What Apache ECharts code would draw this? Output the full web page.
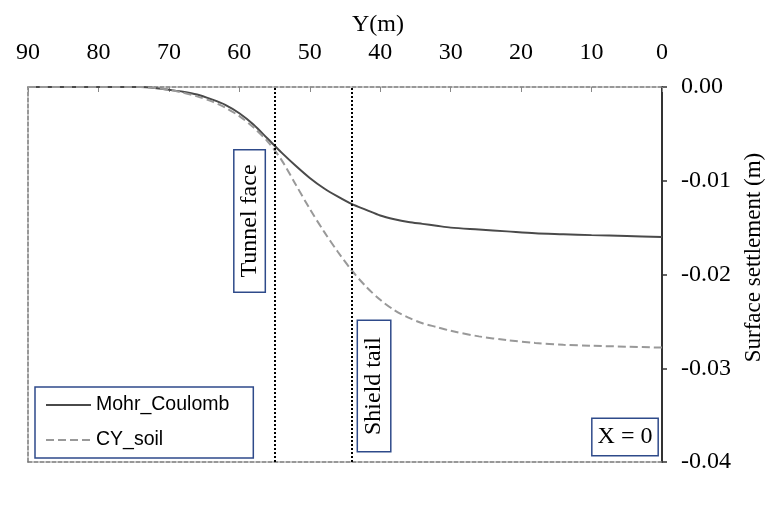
<!DOCTYPE html>
<html>
<head>
<meta charset="utf-8">
<script src="https://cdn.jsdelivr.net/npm/echarts@6/dist/echarts.min.js"></script>
<style>html,body{margin:0;padding:0;background:#fff}#c{width:768px;height:509px}</style>
</head>
<body>
<div id="c"></div>
<script>
// Distance Y (m)
var yPos = [90, 80, 76, 74, 72, 70, 68, 66, 64, 62, 60, 58, 56, 54, 52, 50, 48, 46, 44, 42, 40, 38, 36, 34, 32, 30, 26, 22, 18, 14, 10, 5, 0];
// Surface settlement (m)
var mohrCoulomb = [0, 0, 0, 0, -0.0001, -0.0003, -0.0005, -0.0008, -0.0013, -0.0019, -0.0028, -0.0040, -0.0055, -0.0070, -0.0084, -0.0097, -0.0108, -0.0117, -0.0125, -0.0131, -0.0137, -0.0141, -0.0144, -0.0146, -0.0148, -0.0150, -0.0152, -0.0154, -0.0156, -0.0157, -0.0158, -0.0159, -0.0160];
var cySoil = [0, 0, 0, 0, -0.0001, -0.0003, -0.0006, -0.0010, -0.0015, -0.0022, -0.0031, -0.0043, -0.0058, -0.0078, -0.0104, -0.0130, -0.0154, -0.0176, -0.0196, -0.0213, -0.0227, -0.0238, -0.0246, -0.0252, -0.0256, -0.0260, -0.0266, -0.0270, -0.0273, -0.0275, -0.0276, -0.0277, -0.0278];
var seriesNames = ['Mohr_Coulomb', 'CY_soil'];
var markers = [{name: 'Tunnel face', y: 55}, {name: 'Shield tail', y: 44}];
var caseLabel = 'X = 0';

var serif = '"Liberation Serif", "Times New Roman", serif';
var chart = echarts.init(document.getElementById('c'));
function pairs(v) { return yPos.map(function (x, i) { return [x, v[i]]; }); }

chart.setOption({
  animation: false,
  backgroundColor: '#fff',
  grid: {left: 28, right: 106, top: 87, bottom: 47, containLabel: false, outerBoundsMode: 'none'},
  legend: {
    orient: 'vertical', left: 35, top: 387,
    backgroundColor: '#fff', borderColor: '#2E4A8A', borderWidth: 1.5,
    padding: [8, 24, 8, 10], itemGap: 15, itemWidth: 45, itemHeight: 14,
    itemStyle: {opacity: 0},
    textStyle: {fontFamily: '"Liberation Sans", Arial, sans-serif', fontSize: 19.5, color: '#000'},
    data: seriesNames
  },
  xAxis: [{
    type: 'value', position: 'top', inverse: true, min: 0, max: 90, interval: 10,
    name: 'Y(m)', nameLocation: 'middle', nameGap: 50, nameMoveOverlap: false,
    nameTextStyle: {fontFamily: serif, fontSize: 24, color: '#000', padding: [0, 0, 0, 66]},
    axisLine: {lineStyle: {color: '#777', type: [4, 2], width: 1.5}},
    axisTick: {inside: true, length: 5, lineStyle: {color: '#888'}},
    axisLabel: {margin: 22, fontFamily: serif, fontSize: 24, color: '#000'},
    splitLine: {show: false}
  }, {
    type: 'value', position: 'bottom', inverse: true, min: 0, max: 90,
    axisLine: {show: true, onZero: false, lineStyle: {color: '#777', type: [4, 2], width: 1.5}},
    axisTick: {show: false}, axisLabel: {show: false}, splitLine: {show: false}
  }],
  yAxis: [{
    type: 'value', position: 'right', min: -0.04, max: 0, interval: 0.01,
    name: 'Surface settlement (m)', nameLocation: 'middle', nameGap: 80, nameRotate: 90,
    nameMoveOverlap: false,
    nameTextStyle: {fontFamily: serif, fontSize: 23, color: '#000', padding: [0, 0, 0, 34]},
    axisLine: {show: true, lineStyle: {color: '#333', width: 2}},
    axisTick: {show: true, length: 5, lineStyle: {color: '#333', width: 1.5}},
    axisLabel: {margin: 19, fontFamily: serif, fontSize: 24, color: '#000',
      formatter: function (v) { return v.toFixed(2); }},
    splitLine: {show: false}
  }, {
    type: 'value', position: 'left', min: -0.04, max: 0,
    axisLine: {show: true, onZero: false, lineStyle: {color: '#777', type: [4, 2], width: 1.5}},
    axisTick: {show: false}, axisLabel: {show: false}, splitLine: {show: false}
  }],
  series: [{
    name: seriesNames[0], type: 'line', data: pairs(mohrCoulomb), smooth: 0.3,
    symbol: 'none', lineStyle: {color: '#4a4a4a', width: 2},
    itemStyle: {color: '#4a4a4a'},
    markLine: {
      silent: true, symbol: 'none', label: {show: false},
      lineStyle: {color: '#000', type: [2, 2], width: 2},
      data: markers.map(function (m) { return {xAxis: m.y}; })
    }
  }, {
    name: seriesNames[1], type: 'line', data: pairs(cySoil), smooth: 0.3,
    symbol: 'none', lineStyle: {color: '#999', width: 2, type: [8, 4]},
    itemStyle: {color: '#999'}
  }]
});

function boxText(text, x, y, rot, pad) {
  return {
    type: 'text', x: x, y: y, rotation: rot, z: 100,
    style: {
      text: text, x: 0, y: 0, align: 'center', verticalAlign: 'middle',
      font: '24px ' + serif, fill: '#000',
      backgroundColor: '#fff', borderColor: '#2E4A8A', borderWidth: 1.5,
      padding: pad
    }
  };
}
var px0 = chart.convertToPixel({xAxisIndex: 0}, markers[0].y);
var px1 = chart.convertToPixel({xAxisIndex: 0}, markers[1].y);
chart.setOption({
  graphic: [
    boxText(markers[0].name, px0 - 25, 221, Math.PI / 2, [3, 14, 3, 14]),
    boxText(markers[1].name, px1 + 22, 386, Math.PI / 2, [4, 16, 4, 16]),
    boxText(caseLabel, 625, 437, 0, [6, 5, 6, 5])
  ]
});
</script>
</body>
</html>
